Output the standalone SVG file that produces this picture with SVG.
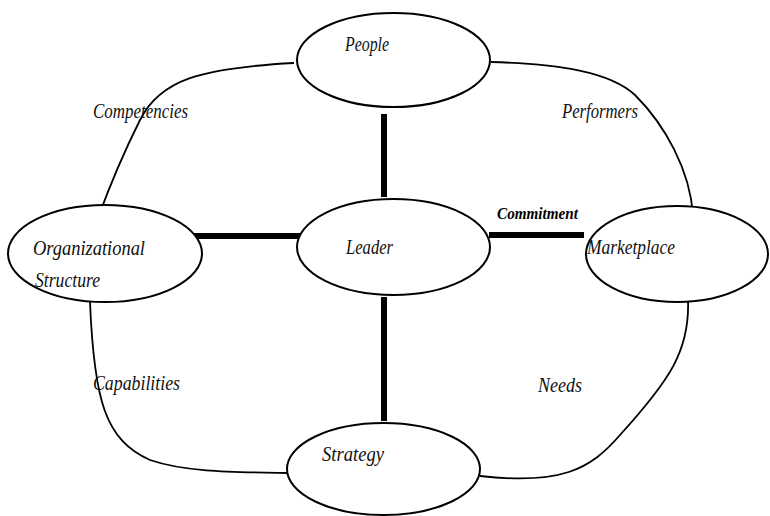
<svg xmlns="http://www.w3.org/2000/svg" width="770" height="516" viewBox="0 0 770 516">
  <style>
    .node ellipse { fill: #ffffff; stroke: #000000; stroke-width: 2; }
    .lbl { font-family: "Liberation Serif", "DejaVu Serif", serif; font-style: italic; font-size: 20px; fill: #111111; }
    .bold { font-family: "Liberation Serif", "DejaVu Serif", serif; font-style: italic; font-weight: bold; font-size: 17px; fill: #000000; }
    .curve { fill: none; stroke: #000000; stroke-width: 1.8; }
    .bar { stroke: #000000; stroke-width: 6; }
  </style>
  <rect width="770" height="516" fill="#ffffff"/>

  <!-- connectors -->
  <g id="connectors">
    <path class="curve" d="M 294 63 C 200 68 160 80 140 120 C 125 150 110 185 98 218"/>
    <path class="curve" d="M 491 62 C 560 64 610 72 635 95 C 665 125 690 170 693 215"/>
    <path class="curve" d="M 90 302 C 94 400 105 440 150 460 C 185 472 230 472 288 473"/>
    <path class="curve" d="M 688 300 C 690 350 670 380 620 435 C 590 470 560 485 480 476"/>
    <line class="bar" x1="384" y1="114" x2="384" y2="197"/>
    <line class="bar" x1="384" y1="297" x2="384" y2="421"/>
    <line class="bar" x1="192" y1="236" x2="307" y2="236"/>
    <line class="bar" x1="489" y1="235" x2="584" y2="235"/>
  </g>

  <!-- nodes -->
  <g id="people" class="node">
    <ellipse cx="393.5" cy="60" rx="96.5" ry="47"/>
    <text class="lbl" x="345" y="51" textLength="44" lengthAdjust="spacingAndGlyphs">People</text>
  </g>
  <g id="leader" class="node">
    <ellipse cx="393.5" cy="247" rx="96.5" ry="48"/>
    <text class="lbl" x="346" y="254" textLength="47" lengthAdjust="spacingAndGlyphs">Leader</text>
  </g>
  <g id="organizational-structure" class="node">
    <ellipse cx="105" cy="253.5" rx="97" ry="48.5"/>
    <text class="lbl" x="33" y="255" textLength="112" lengthAdjust="spacingAndGlyphs">Organizational</text>
    <text class="lbl" x="35" y="287" textLength="65" lengthAdjust="spacingAndGlyphs">Structure</text>
  </g>
  <g id="marketplace" class="node">
    <ellipse cx="677" cy="254" rx="91" ry="48"/>
    <text class="lbl" x="587" y="254" textLength="88" lengthAdjust="spacingAndGlyphs">Marketplace</text>
  </g>
  <g id="strategy" class="node">
    <ellipse cx="383.5" cy="469" rx="96.5" ry="46"/>
    <text class="lbl" x="322" y="461" textLength="62" lengthAdjust="spacingAndGlyphs">Strategy</text>
  </g>

  <!-- connector labels -->
  <g id="labels">
    <text class="lbl" x="93" y="118" textLength="95" lengthAdjust="spacingAndGlyphs">Competencies</text>
    <text class="lbl" x="562" y="118" textLength="76" lengthAdjust="spacingAndGlyphs">Performers</text>
    <text class="bold" x="497" y="219" textLength="81" lengthAdjust="spacingAndGlyphs">Commitment</text>
    <text class="lbl" x="93" y="390" textLength="87" lengthAdjust="spacingAndGlyphs">Capabilities</text>
    <text class="lbl" x="538" y="392" textLength="44" lengthAdjust="spacingAndGlyphs">Needs</text>
  </g>
</svg>
